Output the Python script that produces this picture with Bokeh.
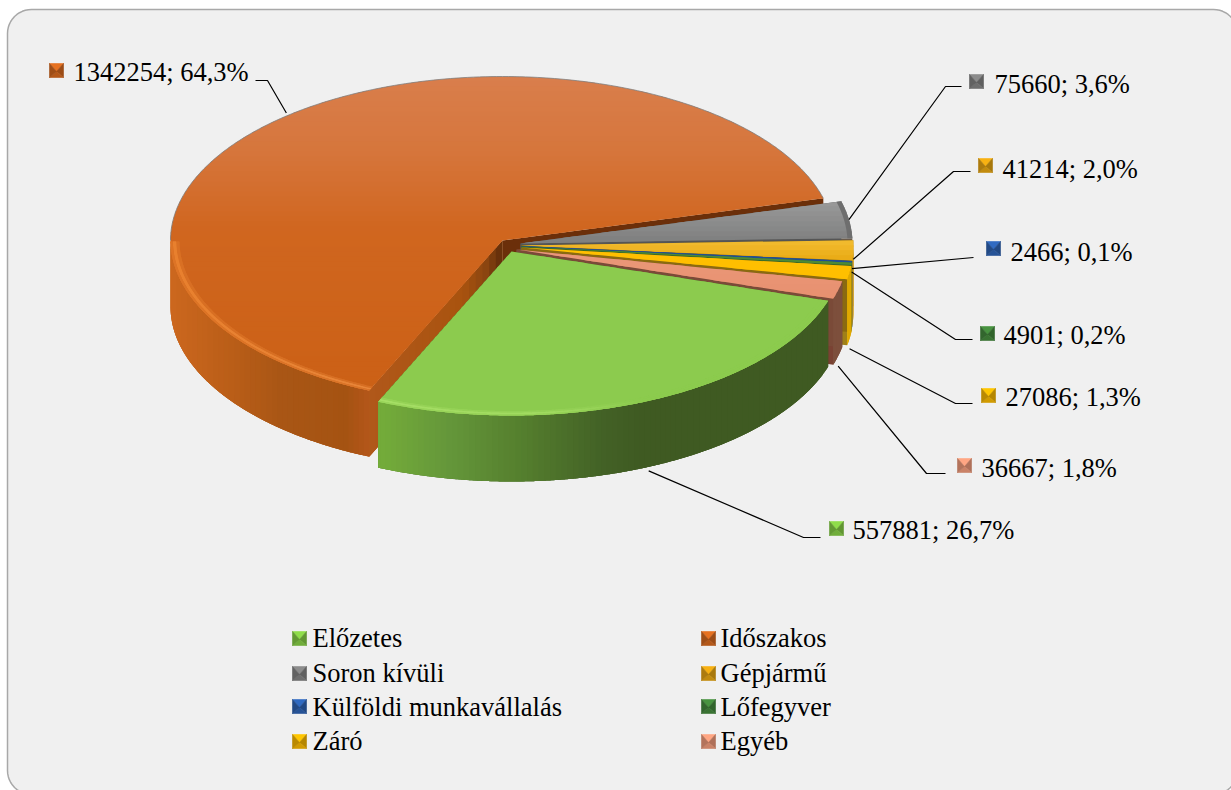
import math
from bokeh.plotting import figure
from bokeh.models import Range1d, ColumnDataSource
from bokeh.core.properties import value
from bokeh.embed import file_html
from bokeh.resources import INLINE

# ---- data -------------------------------------------------------------
categories = ["Előzetes", "Időszakos", "Soron kívüli", "Gépjármű",
              "Külföldi munkavállalás", "Lőfegyver", "Záró", "Egyéb"]
counts = [557881, 1342254, 75660, 41214, 2466, 4901, 27086, 36667]

# ---- style ------------------------------------------------------------
top_stops = [
    [(240, "#8CCB4E"), (480, "#8CCB4E")],
    [(77, "#D97E4C"), (150, "#D6763C"), (230, "#D0661F"), (400, "#CB6015")],
    [(200, "#9A9A9A"), (240, "#7F8080")],
    [(240, "#F2BC30"), (262, "#E8A810")],
    [(240, "#1F4E9A"), (280, "#1F4E9A")],
    [(240, "#4F8A35"), (280, "#4F8A35")],
    [(240, "#FFC000"), (290, "#FFBE00")],
    [(240, "#EA9A7C"), (300, "#E8906F")],
]
wall_stops = [
    [(380, "#74AC3A"), (450, "#64963A"), (520, "#557F2E"), (600, "#436226"), (640, "#3F5A22"), (840, "#3F5A22")],
    [(170, "#CC671E"), (230, "#BA5E18"), (280, "#A95615"), (345, "#A55312"), (370, "#B5561A")],
    [(800, "#666666"), (860, "#666666")],
    [(800, "#C08E10"), (860, "#D8A010")],
    [(800, "#1F4E9A"), (860, "#1F4E9A")],
    [(800, "#3A6A28"), (860, "#3A6A28")],
    [(800, "#C08E00"), (850, "#E0A800")],
    [(800, "#7D4F3C"), (860, "#7D4F3C")],
]
marker_colors = ["#7CC040", "#C8621C", "#7A7A7A", "#D89A10", "#2A5CA8", "#3F8038", "#E8AC00", "#E09072"]
start_face = ["#3F5A22", "#A9530F", "#555555", "#8A6A10", "#1F4E9A", "#3A6A28", "#8A6A10", "#7A4A38"]
end_face = ["#3F5A22", "#6B2F0A", "#6A5A48", "#8A6A10", "#1F4E9A", "#3A6A28", "#A08018", "#7A4233"]
rim_stops = [
    [(380, "#A6DE66"), (560, "#A0DA60"), (650, "#8CCB4E"), (830, "#8CCB4E")],
    [(170, "#E8802E"), (370, "#E8863A")],
    None, None, None, None, None, None,
]

# ---- layout -----------------------------------------------------------
RX, RY, H = 332.0, 164.0, 66.0
START = 17.5
BASE = (508.0, 245.0)
explode = [(3, 6), (-6, -5), (12, -2), (13, 0), (13, 0.5), (13, 1), (13, 2), (8, 4)]
paint_order = [1, 2, 3, 4, 5, 6, 7, 0]
leader_drop = [70, -3, 0, 9, 7, 8, 76, 76]
elbows = [[(803, 537), (820, 537)], [(267, 80), (255, 80)], [(945, 86), (961, 86)],
          [(953, 171), (970, 171)], [(973, 257)], [(955, 339), (972, 339)],
          [(955, 403), (972, 403)], [(926, 473), (945, 473)]]
label_pos = [(852, 529), (73, 71), (994, 83), (1002, 168), (1010, 251), (1003, 334), (1005, 396), (981, 467)]
marker_pos = [(836, 528), (56, 70), (976, 81), (985, 165), (993, 248), (987, 333), (988, 395), (964, 465)]
legend_cols = [299, 708]
legend_text_x = [312, 720]
legend_rows = [638, 673, 706, 741]
legend_base = [637, 672, 706, 740]
FONT = value("Liberation Serif")
FS = "26.5px"
RIM_LAYERS = [(1.0, 0.993, 0.55), (0.993, 0.983, 1.0), (0.983, 0.973, 0.4)]


def hex2rgb(c):
    return tuple(int(c[i:i + 2], 16) for i in (1, 3, 5))


def rgb2hex(r):
    return "#%02X%02X%02X" % tuple(max(0, min(255, int(round(v)))) for v in r)


def ramp(stops, v):
    if v <= stops[0][0]:
        return stops[0][1]
    for (a, ca), (b, cb) in zip(stops, stops[1:]):
        if v <= b:
            f = (v - a) / (b - a)
            ra, rb = hex2rgb(ca), hex2rgb(cb)
            return rgb2hex([x + (y - x) * f for x, y in zip(ra, rb)])
    return stops[-1][1]


def mix(c1, c2, f):
    a, b = hex2rgb(c1), hex2rgb(c2)
    return rgb2hex([x + (y - x) * f for x, y in zip(a, b)])


def shade(c, k):
    return rgb2hex([v * k for v in hex2rgb(c)])


def clip_band(poly, y0, y1):
    def clip(pts, inside, cross):
        out = []
        for i, p in enumerate(pts):
            q = pts[i - 1]
            if inside(p):
                if not inside(q):
                    out.append(cross(q, p))
                out.append(p)
            elif inside(q):
                out.append(cross(q, p))
        return out

    def at(y):
        return lambda a, b: (a[0] + (b[0] - a[0]) * (y - a[1]) / (b[1] - a[1]), y)

    r = clip(poly, lambda p: p[1] >= y0, at(y0))
    if r:
        r = clip(r, lambda p: p[1] <= y1, at(y1))
    return r


total = sum(counts)
spans = [c / total * 360.0 for c in counts]
starts = []
a = START
for s in spans:
    starts.append(a)
    a += s

xs, ys, cols = [], [], []


def add(pts, col):
    xs.append([p[0] for p in pts])
    ys.append([p[1] for p in pts])
    cols.append(col)


def arc(cx, cy, t, k=1.0):
    r = math.radians(t)
    return (cx + k * RX * math.cos(r), cy + k * RY * math.sin(r))


def breaks(cx, cy, t0, t1, minlen=5.0):
    out = [t0]
    last = arc(cx, cy, t0)
    t = t0
    while t < t1:
        t = min(t + 0.2, t1)
        q = arc(cx, cy, t)
        if abs(q[0] - last[0]) >= minlen or t == t1:
            out.append(t)
            last = q
    return out


for i in paint_order:
    cx, cy = BASE[0] + explode[i][0], BASE[1] + explode[i][1]
    t0, t1 = starts[i], starts[i] + spans[i]
    apex = (cx, cy)
    # cut faces
    for t, col in ((t1, end_face[i]), (t0, start_face[i])):
        if i == 1 and t == t0:
            e = arc(cx, cy, t)
            n = 20
            fstops = [(0, "#5F2C0A"), (0.12, "#8A4510"), (0.3, "#A9530F"), (1, "#B0581A")]
            add([apex, e, (e[0], e[1] + H), (apex[0], apex[1] + H)], "#A9530F")
            for j in range(n):
                f0, f1 = j / n, min(1, (j + 2) / n)
                pa = (apex[0] + (e[0] - apex[0]) * f0, apex[1] + (e[1] - apex[1]) * f0)
                pb = (apex[0] + (e[0] - apex[0]) * f1, apex[1] + (e[1] - apex[1]) * f1)
                add([pa, pb, (pb[0], pb[1] + H), (pa[0], pa[1] + H)], ramp(fstops, (j + .5) / n))
        else:
            e = arc(cx, cy, t)
            add([apex, e, (e[0], e[1] + H), (apex[0], apex[1] + H)], col)
    # outer wall, front half only: a solid base, then overlapping shaded quads
    front = [t0 + spans[i] * j / 200 for j in range(201)
             if math.sin(math.radians(t0 + spans[i] * j / 200)) >= 0]
    if len(front) >= 2:
        tlo, thi = front[0], front[-1]
        upper = [arc(cx, cy, t) for t in front]
        add(upper + [(q[0], q[1] + H) for q in reversed(upper)],
            ramp(wall_stops[i], upper[len(upper) // 2][0]))
        br = breaks(cx, cy, tlo, thi)
        for j in range(len(br) - 1):
            end = br[min(j + 2, len(br) - 1)]
            fine = [br[j] + (end - br[j]) * k / 12 for k in range(13)]
            up = [arc(cx, cy, t) for t in fine]
            add(up + [(q[0], q[1] + H) for q in reversed(up)],
                ramp(wall_stops[i], arc(cx, cy, (br[j] + br[j + 1]) / 2)[0]))
    # top face in horizontal bands
    m = max(8, int(spans[i] * 2))
    poly = [apex] + [arc(cx, cy, t0 + spans[i] * j / m) for j in range(m + 1)]
    ymin, ymax = min(p[1] for p in poly), max(p[1] for p in poly)
    y = ymin
    step = 5.0
    while y < ymax:
        band = clip_band(poly, y, y + step + 2.0)
        if len(band) >= 3:
            add(band, ramp(top_stops[i], y + step / 2))
        y += step
    # soft bevel rim along the front edge of the top
    if rim_stops[i] and len(front) >= 2:
        br = breaks(cx, cy, front[0], front[-1], 8.0)
        for kout, kin, strength in reversed(RIM_LAYERS):
            for j in range(len(br) - 1):
                end = br[min(j + 2, len(br) - 1)]
                fine = [br[j] + (end - br[j]) * k / 12 for k in range(13)]
                q0 = arc(cx, cy, br[j])
                col = mix(ramp(top_stops[i], q0[1]), ramp(rim_stops[i], q0[0]), strength)
                add([arc(cx, cy, t, kout) for t in fine] + [arc(cx, cy, t, kin) for t in reversed(fine)], col)

# gray shaded rim on the soron kívüli slice edge
cx, cy = BASE[0] + explode[2][0], BASE[1] + explode[2][1]
fine = [starts[2] + spans[2] * j / 26 for j in range(27)]
add([arc(cx, cy, t) for t in fine] + [arc(cx, cy, t, 0.985) for t in reversed(fine)], "#6E6E6E")

# ---- figure -----------------------------------------------------------
p = figure(width=1231, height=790, output_backend="svg", toolbar_location=None,
           x_range=Range1d(0, 1231), y_range=Range1d(790, 0),
           x_axis_type=None, y_axis_type=None, min_border=0)
p.grid.visible = False
p.outline_line_color = None
p.background_fill_color = "#FFFFFF"
p.border_fill_color = "#FFFFFF"

# rounded chart frame
fx0, fy0, fx1, fy1, fr = 7.0, 9.0, 1237.0, 794.0, 24.0
fp = []
for (ccx, ccy, a0) in ((fx1 - fr, fy0 + fr, -90), (fx1 - fr, fy1 - fr, 0), (fx0 + fr, fy1 - fr, 90), (fx0 + fr, fy0 + fr, 180)):
    for k in range(13):
        r = math.radians(a0 + k * 7.5)
        fp.append((ccx + fr * math.cos(r), ccy + fr * math.sin(r)))
p.patch([q[0] for q in fp], [q[1] for q in fp], fill_color="#F0F0F0",
        line_color="#A8A8A8", line_width=1.5)

p.patches("xs", "ys", fill_color="cols", line_color=None,
          source=ColumnDataSource(dict(xs=xs, ys=ys, cols=cols)))

# thin dark edge along the back of the large slice
cx, cy = BASE[0] + explode[1][0], BASE[1] + explode[1][1]
edge = [arc(cx, cy, t) for t in range(180, int(starts[1] + spans[1]) + 1)]
p.line([q[0] for q in edge], [q[1] for q in edge], line_color="#808080", line_width=1, line_alpha=0.8)

# leader lines
lx, ly = [], []
for i in range(len(counts)):
    cx, cy = BASE[0] + explode[i][0], BASE[1] + explode[i][1]
    st = arc(cx, cy, starts[i] + spans[i] / 2)
    pts = [(st[0], st[1] + leader_drop[i])] + elbows[i]
    lx.append([q[0] for q in pts])
    ly.append([q[1] for q in pts])
p.multi_line(lx, ly, line_color="#000000", line_width=1.2)

# bevelled square keys
def key(cx_, cy_, col):
    h = 7.0
    c = (cx_, cy_ + 1)
    tl, tr, br, bl = (cx_ - h, cy_ - h), (cx_ + h, cy_ - h), (cx_ + h, cy_ + h), (cx_ - h, cy_ + h)
    return [([tl, tr, c], shade(col, 1.15)), ([tr, br, c], shade(col, 0.78)),
            ([br, bl, c], shade(col, 0.9)), ([bl, tl, c], shade(col, 0.8))]


kx, ky, kc = [], [], []
for i in range(len(counts)):
    for tri, col in key(*marker_pos[i], marker_colors[i]):
        kx.append([q[0] for q in tri]); ky.append([q[1] for q in tri]); kc.append(col)
    for tri, col in key(legend_cols[i % 2], legend_rows[i // 2], marker_colors[i]):
        kx.append([q[0] for q in tri]); ky.append([q[1] for q in tri]); kc.append(col)
p.patches("kx", "ky", fill_color="kc", line_color="kc", line_width=0.6,
          source=ColumnDataSource(dict(kx=kx, ky=ky, kc=kc)))

# data labels
labels = [f"{c}; {c / total * 100:.1f}%".replace(".", ",") for c in counts]
p.text([q[0] for q in label_pos], [q[1] for q in label_pos], text=labels,
       text_font=FONT, text_font_size=value(FS), text_color="#000000",
       text_align="left", text_baseline="alphabetic")

# legend
p.text([legend_text_x[i % 2] for i in range(8)],
       [legend_base[i // 2] for i in range(8)], text=categories,
       text_font=FONT, text_font_size=value(FS), text_color="#000000",
       text_align="left", text_baseline="alphabetic")

open("out.html", "w").write(file_html(p, INLINE))
